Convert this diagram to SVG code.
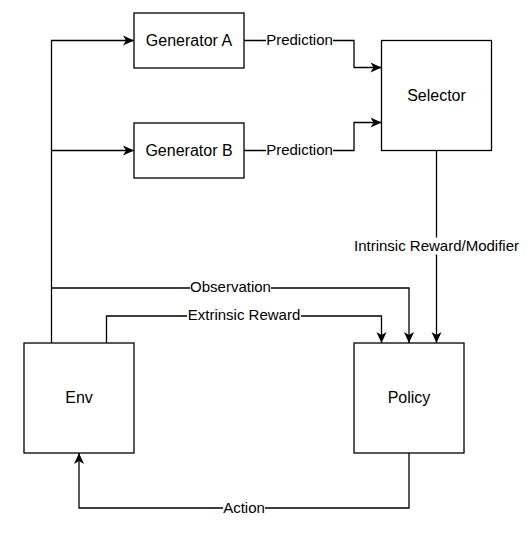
<svg xmlns="http://www.w3.org/2000/svg" width="532" height="537" viewBox="0 0 532 537">
  <defs>
    <marker id="arr" markerUnits="userSpaceOnUse" markerWidth="14" markerHeight="12" viewBox="-12 -6 14 12" refX="0" refY="0" orient="auto">
      <path d="M0,0 L-11,-5 L-8,0 L-11,5 Z" fill="#000"/>
    </marker>
  </defs>
  <style>
    .node rect { fill: #fff; stroke: #000; stroke-width: 1.3; }
    .node text { font-family: "Liberation Sans", Arial, sans-serif; font-size: 16px; fill: #000; text-anchor: middle; }
    .edge { fill: none; stroke: #000; stroke-width: 1.3; }
    .arrow { marker-end: url(#arr); }
    .lbl-bg { fill: #fff; }
    .lbl { font-family: "Liberation Sans", Arial, sans-serif; font-size: 15px; fill: #000; text-anchor: middle; }
  </style>
  <rect width="532" height="537" fill="#fff"/>

  <g id="connectors">
    <!-- Env to Generator A -->
    <path class="edge arrow" d="M51.5,343 V40.5 H134"/>
    <!-- Env to Generator B -->
    <path class="edge arrow" d="M51.5,150.5 H134"/>
    <!-- Observation -->
    <path class="edge arrow" d="M51.5,288 H409 V343"/>
    <!-- Extrinsic Reward -->
    <path class="edge arrow" d="M106.5,343 V316 H381.5 V343"/>
    <!-- Generator A Prediction -->
    <path class="edge arrow" d="M244,40.5 H354 V67.5 H381.5"/>
    <!-- Generator B Prediction -->
    <path class="edge arrow" d="M244,150.5 H354 V122.5 H381.5"/>
    <!-- Intrinsic Reward/Modifier -->
    <path class="edge arrow" d="M436.5,150.5 V343"/>
    <!-- Action -->
    <path class="edge arrow" d="M409,453 V508 H79 V453"/>

    <rect class="lbl-bg" x="266" y="32" width="67" height="17"/>
    <text class="lbl" x="299.5" y="44.5">Prediction</text>
    <rect class="lbl-bg" x="266" y="142" width="67" height="17"/>
    <text class="lbl" x="299.5" y="154.5">Prediction</text>
    <rect class="lbl-bg" x="190" y="279.5" width="81" height="17"/>
    <text class="lbl" x="230.5" y="292">Observation</text>
    <rect class="lbl-bg" x="187" y="307.5" width="114" height="17"/>
    <text class="lbl" x="244" y="320">Extrinsic Reward</text>
    <rect class="lbl-bg" x="353" y="237.5" width="168" height="17"/>
    <text class="lbl" x="436.5" y="250.5">Intrinsic Reward/Modifier</text>
    <rect class="lbl-bg" x="223" y="499.5" width="42" height="17"/>
    <text class="lbl" x="244" y="512.5">Action</text>
  </g>

  <g id="generator-a" class="node">
    <rect x="134" y="13" width="110" height="55"/>
    <text x="189" y="45.5">Generator A</text>
  </g>
  <g id="generator-b" class="node">
    <rect x="134" y="123" width="110" height="55"/>
    <text x="189" y="155.5">Generator B</text>
  </g>
  <g id="selector" class="node">
    <rect x="381.5" y="40.5" width="110" height="110"/>
    <text x="436.5" y="100.5">Selector</text>
  </g>
  <g id="env" class="node">
    <rect x="24" y="343" width="110" height="110"/>
    <text x="79" y="403">Env</text>
  </g>
  <g id="policy" class="node">
    <rect x="354" y="343" width="110" height="110"/>
    <text x="409" y="403">Policy</text>
  </g>
</svg>
